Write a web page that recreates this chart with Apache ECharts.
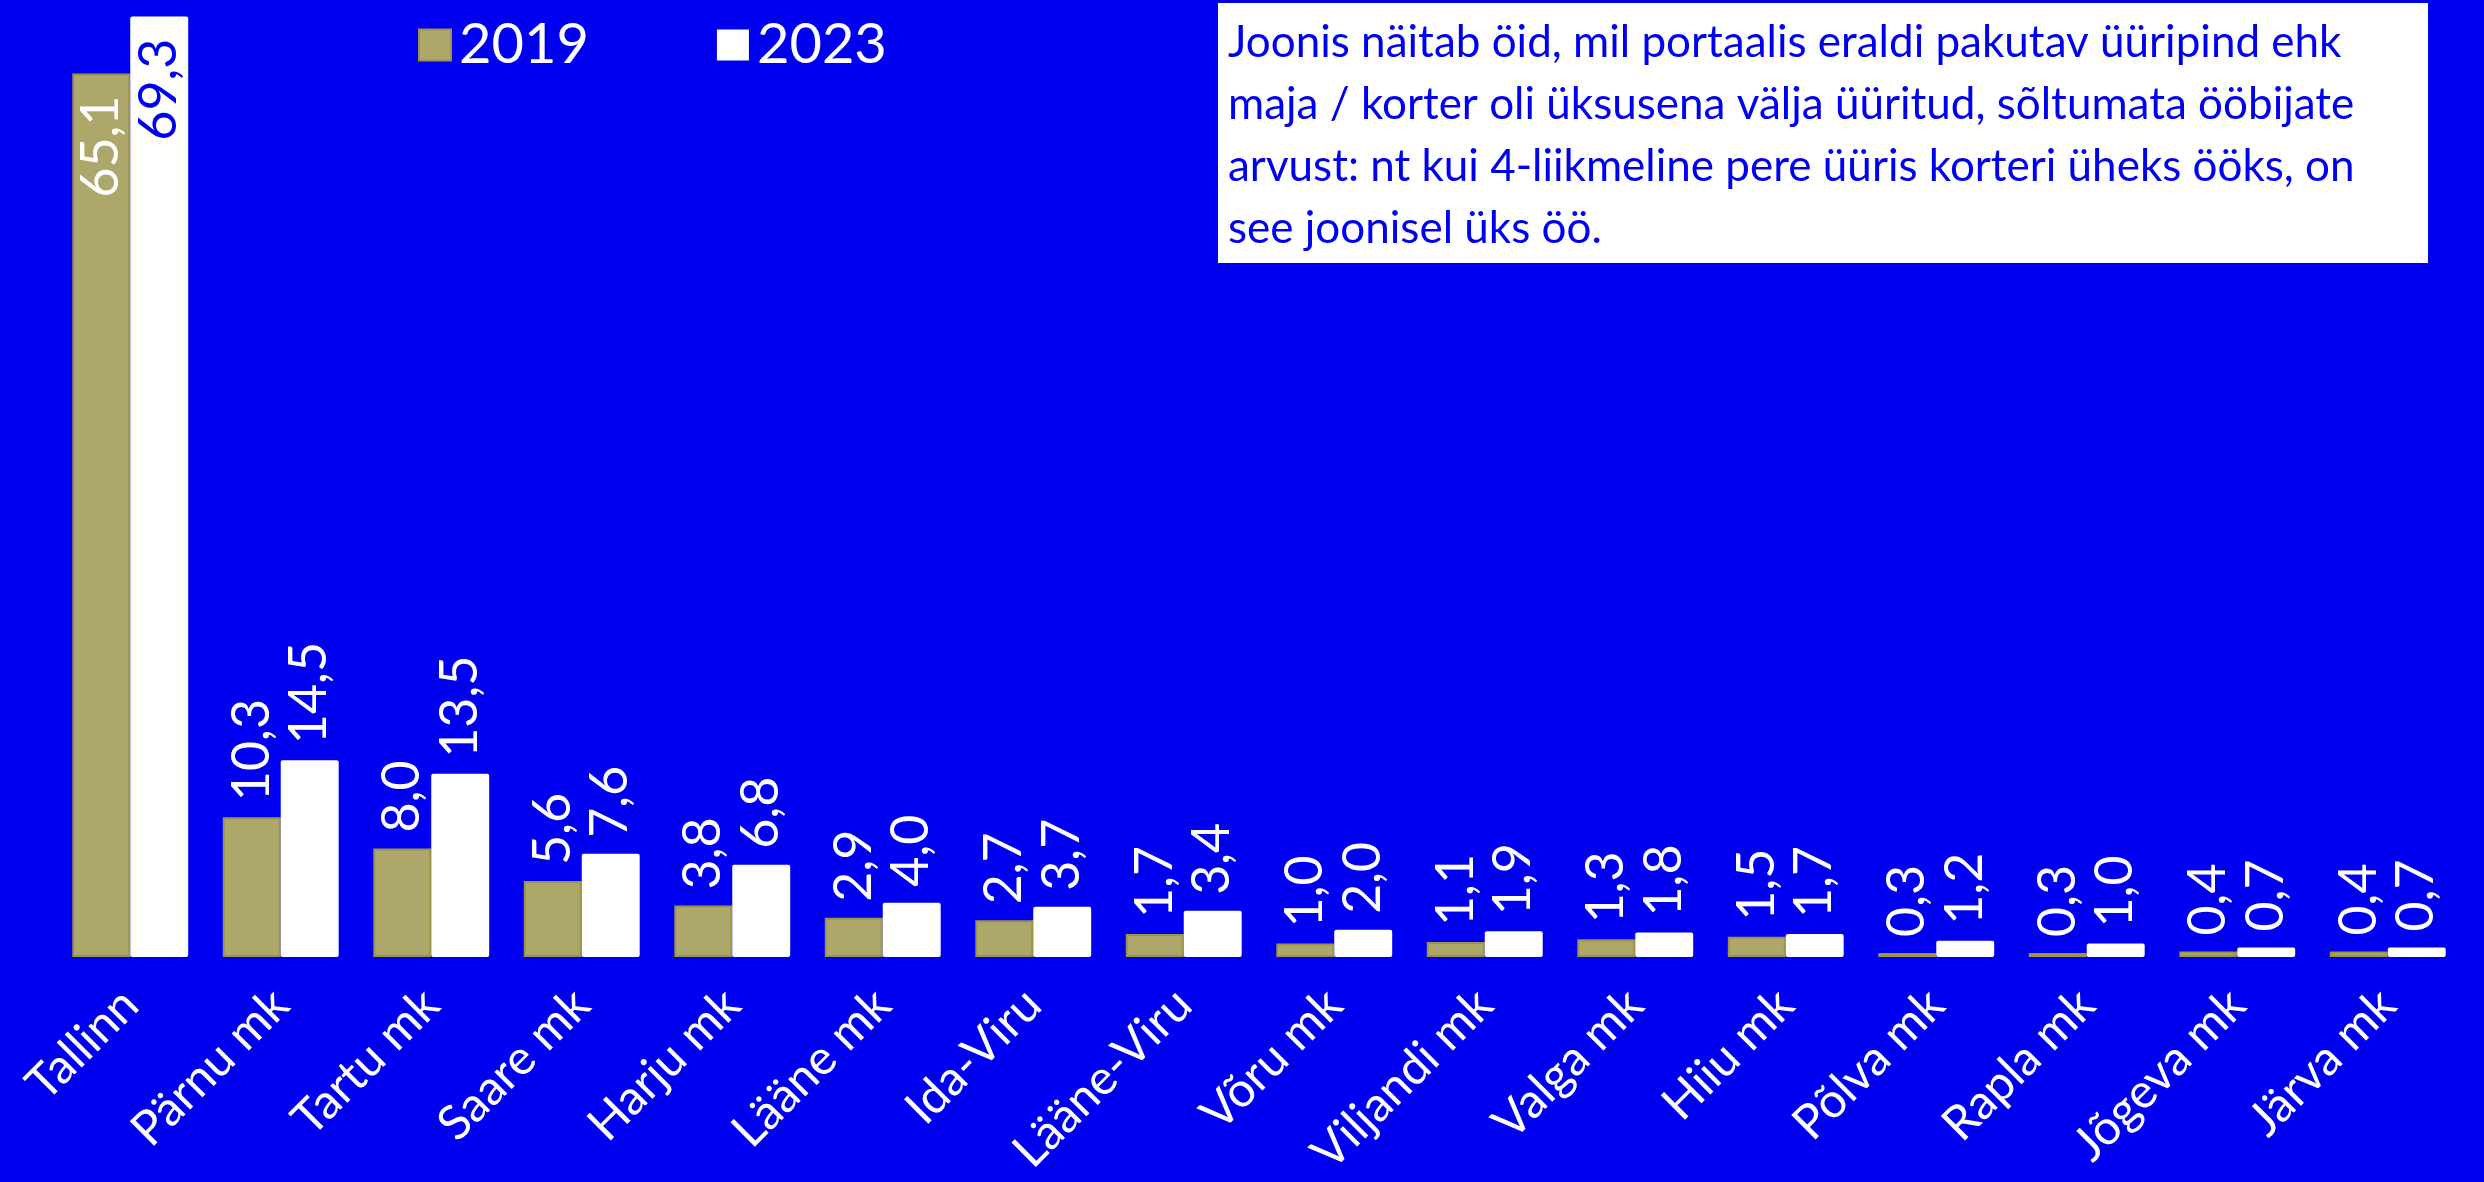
<!DOCTYPE html>
<html>
<head>
<meta charset="utf-8">
<script src="https://cdn.jsdelivr.net/npm/echarts@6/dist/echarts.min.js"></script>
<style>
  html, body { margin: 0; padding: 0; background: #0000F0; }
  #chart { width: 2484px; height: 1182px; }
</style>
</head>
<body>
<div id="chart"></div>
<script>
// maakonnad
const categories = ["Tallinn", "Pärnu mk", "Tartu mk", "Saare mk", "Harju mk", "Lääne mk", "Ida-Viru", "Lääne-Viru",
  "Võru mk", "Viljandi mk", "Valga mk", "Hiiu mk", "Põlva mk", "Rapla mk", "Jõgeva mk", "Järva mk"];
const values2019 = [65.1, 10.3, 8.0, 5.6, 3.8, 2.9, 2.7, 1.7, 1.0, 1.1, 1.3, 1.5, 0.3, 0.3, 0.4, 0.4];
const values2023 = [69.3, 14.5, 13.5, 7.6, 6.8, 4.0, 3.7, 3.4, 2.0, 1.9, 1.8, 1.7, 1.2, 1.0, 0.7, 0.7];
const seriesNames = ["2019", "2023"];
const note = "Joonis näitab öid, mil portaalis eraldi pakutav üüripind ehk\nmaja / korter oli üksusena välja üüritud, sõltumata ööbijate\narvust: nt kui 4-liikmeline pere üüris korteri üheks ööks, on\nsee joonisel üks öö.";

const BLUE = "#0000F0";
const OLIVE = "#ADA76C";
const FONT = "Lato";
const fmt = v => v.toFixed(1).replace(".", ",");

// esimene tulp (Tallinn) saab sildi tulba sisse
const toData = (arr, insideColor) => arr.map((v, i) => i === 0
  ? { value: v, label: { position: "insideTop", align: "right", distance: 22, color: insideColor } }
  : v);

const chart = echarts.init(document.getElementById("chart"));
const labelBase = {
  show: true,
  position: "top",
  rotate: 90,
  align: "left",
  verticalAlign: "middle",
  distance: 16,
  color: "#fff",
  fontFamily: FONT,
  fontSize: 52,
  formatter: p => fmt(p.value)
};

chart.setOption({
  backgroundColor: BLUE,
  animation: false,
  graphic: [
    { type: "rect", left: 1218, top: 3, shape: { width: 1210, height: 260 }, style: { fill: "#fff" } },
    {
      type: "text", left: 1228, top: 12,
      style: { text: note, fill: BLUE, font: "44px Lato", lineHeight: 62 }
    }
  ],
  legend: {
    left: 413,
    top: 12,
    itemWidth: 32,
    itemHeight: 31,
    itemGap: 128,
    icon: "rect",
    textStyle: { color: "#fff", fontFamily: FONT, fontSize: 56, padding: [0, 0, 0, 3] },
    data: [
      { name: seriesNames[0], itemStyle: { borderColor: "#9C9546", borderWidth: 2 } },
      { name: seriesNames[1] }
    ]
  },
  grid: { left: 55, right: 21, top: 7, bottom: 225, outerBoundsMode: "none", containLabel: false },
  xAxis: {
    type: "category",
    data: categories,
    axisLine: { show: false },
    axisTick: { show: false },
    axisLabel: { rotate: 45, margin: 40, color: "#fff", fontFamily: FONT, fontSize: 48, interval: 0 }
  },
  yAxis: { type: "value", min: 0, max: 70, show: false, splitLine: { show: false } },
  series: [
    {
      name: seriesNames[0], type: "bar", data: toData(values2019, "#fff"),
      barGap: 0, barCategoryGap: "23%",
      itemStyle: { color: OLIVE, borderColor: "#9C9546", borderWidth: 2 },
      label: labelBase
    },
    {
      name: seriesNames[1], type: "bar", data: toData(values2023, BLUE),
      itemStyle: { color: "#fff", borderRadius: 2 },
      label: labelBase
    }
  ]
});
</script>
</body>
</html>
